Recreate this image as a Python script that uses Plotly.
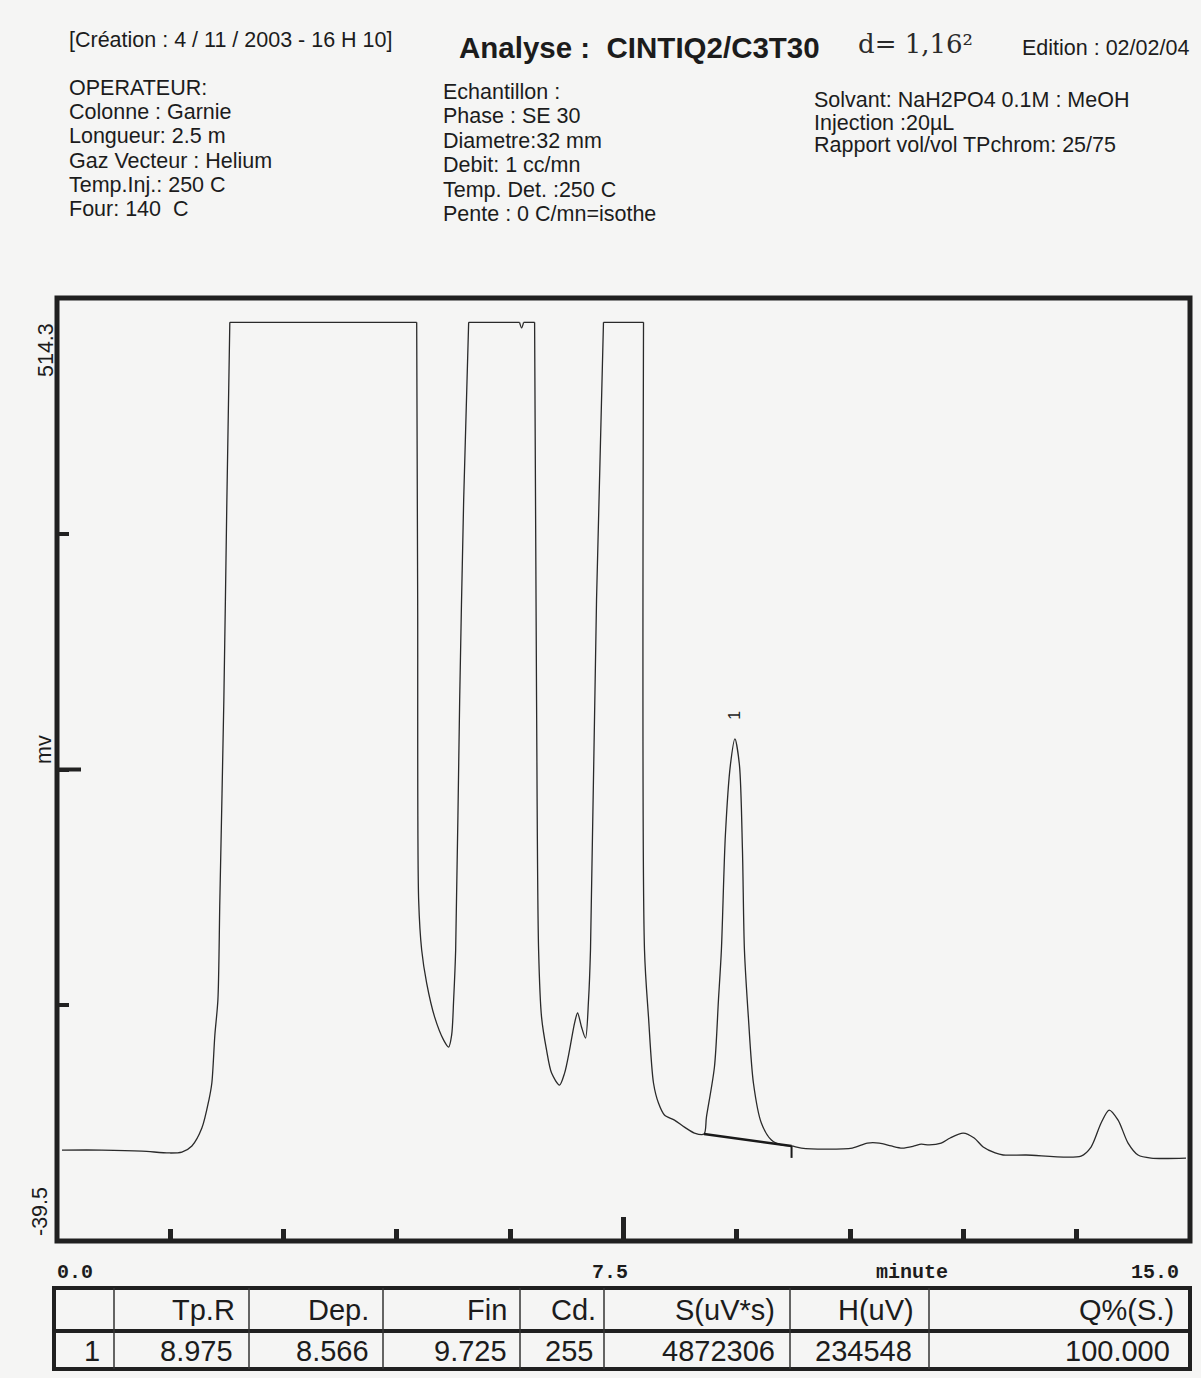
import plotly.graph_objects as go

# ---------------- data ----------------
# Chromatogram signal (time in minutes, signal in mV), before peak 1
pre_time = [0.066, 0.595, 1.124, 1.481, 1.653, 1.786, 1.918, 2.011, 2.050, 2.090,
            2.130, 2.156, 2.209, 2.249, 2.288, 4.762, 4.775, 4.788, 4.828, 4.894,
            5.000, 5.119, 5.185, 5.225, 5.251, 5.278, 5.331, 5.384, 5.450, 6.124,
            6.151, 6.177, 6.323, 6.349, 6.376, 6.415, 6.481, 6.548, 6.653, 6.720,
            6.786, 6.852, 6.892, 6.944, 6.997, 7.037, 7.063, 7.143, 7.235, 7.765,
            7.778, 7.831, 7.897, 7.963, 8.042, 8.175, 8.307, 8.439]
pre_signal = [13.9, 13.9, 13.3, 12.2, 12.7, 16.3, 26.8, 43.3, 53.3, 81.5,
              102.0, 160.7, 278.2, 395.7, 500.0, 500.0, 336.9, 160.7, 131.4, 112.0,
              92.0, 78.5, 74.4, 81.5, 102.0, 131.4, 278.2, 395.7, 500.0, 500.0,
              496.7, 500.0, 500.0, 278.2, 131.4, 92.0, 72.7, 59.1, 52.1, 59.1,
              72.7, 88.5, 94.4, 86.2, 79.7, 102.0, 131.4, 336.9, 500.0, 500.0,
              131.4, 92.0, 53.3, 41.5, 34.5, 31.5, 27.4, 23.9]

# Peak 1 flanks (rising side, falling side)
rise_time = [8.598, 8.704, 8.757, 8.796, 8.849, 8.915]
rise_signal = [33.3, 62.7, 102.0, 131.4, 198.9, 240.0]
fall_time = [9.035, 9.075, 9.101, 9.153, 9.220, 9.325, 9.458, 9.590]
fall_signal = [240.0, 190.0, 131.4, 92.0, 53.3, 29.8, 19.8, 16.9]

# After peak 1
post_time = [9.854, 10.172, 10.529, 10.728, 10.886, 11.045, 11.190, 11.349, 11.442,
             11.548, 11.706, 11.825, 11.997, 12.143, 12.262, 12.421, 12.526, 12.831,
             13.558, 13.690, 13.823, 13.929, 14.048, 14.180, 14.312, 14.484, 14.947]
post_signal = [15.1, 14.5, 15.1, 18.0, 18.0, 16.3, 15.1, 16.3, 17.4,
               16.9, 18.0, 21.0, 23.9, 21.0, 15.7, 12.2, 11.0, 11.0,
               10.4, 15.7, 29.8, 37.4, 31.5, 18.0, 11.0, 9.2, 9.2]

# detector saturation level (flat-topped peaks)
saturation_mv = 500.0

# Integration results
peak_no = "1"
tp_r = 8.975          # retention time (min)
dep = 8.566           # start of integration (min)
fin = 9.725           # end of integration (min)
cd = 255
area_uvs = 4872306
height_uv = 234548
q_pct = "100.000"
baseline_dep_mv = 23.3
baseline_fin_mv = 16.3

x_range = [0.0, 15.0]
y_range = [-39.5, 514.3]
x_tick_step = 1.5
x_tick_labels = ["0.0", "7.5", "15.0"]
x_title = "minute"
y_title = "mv"

table_headers = ["", "Tp.R", "Dep.", "Fin", "Cd.", "S(uV*s)", "H(uV)", "Q%(S.)"]

# ---------------- build peak 1 from its stated height ----------------
base_at_tp = baseline_dep_mv + (baseline_fin_mv - baseline_dep_mv) * (tp_r - dep) / (fin - dep)
apex_mv = base_at_tp + height_uv / 1000.0

time_all = pre_time + [dep] + rise_time + [tp_r] + fall_time + [fin] + post_time
signal_all = pre_signal + [baseline_dep_mv] + rise_signal + [apex_mv] + fall_signal + [baseline_fin_mv] + post_signal

# ---------------- page geometry (pixels) ----------------
WIDTH, HEIGHT = 1201, 1378
L, R, T, B = 57, 1190, 298, 1241
PW, PH = R - L, B - T


def px(x):
    return (x - L) / PW


def py(y):
    return (B - y) / PH


INK = "#1c1c1c"
PAPER = "#f5f5f4"
SANS = "Liberation Sans, Arial, sans-serif"
MONO = "Liberation Mono, Courier New, monospace"

fig = go.Figure()

# Split the signal into flat saturated runs (straight) and curved runs (smoothed)
pts = list(zip(time_all, signal_all))
runs, cur, mode = [], [pts[0]], None
for a, b in zip(pts[:-1], pts[1:]):
    m = "linear" if (a[1] == saturation_mv and b[1] == saturation_mv) else "spline"
    if mode is None:
        mode = m
    if m != mode:
        runs.append((mode, cur))
        cur, mode = [a], m
    cur.append(b)
runs.append((mode, cur))

for shape, seg in runs:
    fig.add_trace(go.Scatter(
        x=[p[0] for p in seg], y=[p[1] for p in seg], mode="lines",
        line=dict(color="#2a2a2a", width=1.3, shape=shape, smoothing=0.8),
        hoverinfo="skip", showlegend=False,
    ))

# integration baseline and end-of-peak marker
fig.add_trace(go.Scatter(
    x=[dep, fin], y=[baseline_dep_mv, baseline_fin_mv], mode="lines",
    line=dict(color="#1a1a1a", width=2.6), hoverinfo="skip", showlegend=False,
))
fig.add_trace(go.Scatter(
    x=[fin, fin], y=[baseline_fin_mv, baseline_fin_mv - 7], mode="lines",
    line=dict(color="#1a1a1a", width=2), hoverinfo="skip", showlegend=False,
))

n_xticks = int(round((x_range[1] - x_range[0]) / x_tick_step))
x_ticks = [x_range[0] + k * x_tick_step for k in range(1, n_xticks)]
y_ticks = [y_range[0] + k * (y_range[1] - y_range[0]) / 4 for k in range(1, 4)]
x_mid = (x_range[0] + x_range[1]) / 2

fig.update_xaxes(range=x_range, tickvals=x_ticks, ticks="inside", ticklen=12,
                 tickwidth=5, tickcolor="#222", showticklabels=False,
                 showgrid=False, zeroline=False, showline=False, fixedrange=True)
fig.update_yaxes(range=y_range, tickvals=y_ticks, ticks="inside", ticklen=12,
                 tickwidth=4, tickcolor="#222", showticklabels=False,
                 showgrid=False, zeroline=False, showline=False, fixedrange=True)

shapes = []
# plot frame
shapes.append(dict(type="rect", xref="paper", yref="paper", x0=0, x1=1, y0=0, y1=1,
                   line=dict(color="#202020", width=5)))
# longer centre ticks
shapes.append(dict(type="line", xref="x", yref="paper", x0=x_mid, x1=x_mid,
                   y0=0, y1=24 / PH, line=dict(color="#222", width=5)))
shapes.append(dict(type="line", xref="paper", yref="y", x0=0, x1=24 / PW,
                   y0=y_ticks[1], y1=y_ticks[1], line=dict(color="#222", width=4)))

# results table
tb_l, tb_r, tb_t, tb_m, tb_b = 54, 1190, 1288, 1331, 1369
shapes.append(dict(type="rect", xref="paper", yref="paper", x0=px(tb_l), x1=px(tb_r),
                   y0=py(tb_b), y1=py(tb_t), line=dict(color="#202020", width=4)))
shapes.append(dict(type="line", xref="paper", yref="paper", x0=px(tb_l), x1=px(tb_r),
                   y0=py(tb_m), y1=py(tb_m), line=dict(color="#202020", width=4)))
for sx in [114, 249, 383, 520, 604, 790, 929]:
    shapes.append(dict(type="line", xref="paper", yref="paper", x0=px(sx), x1=px(sx),
                       y0=py(tb_b), y1=py(tb_t), line=dict(color="#333", width=1.5)))

ann = []


def text(x, y, s, size=21.5, anchor="left", family=SANS, bold=False, angle=0, color=INK):
    ann.append(dict(xref="paper", yref="paper", x=px(x), y=py(y), text=f"<b>{s}</b>" if bold else s,
                    showarrow=False, xanchor=anchor, yanchor="middle", textangle=angle,
                    font=dict(family=family, size=size, color=color)))


# header block
text(67, 40, "[Création : 4 / 11 / 2003 - 16 H 10]")
col1 = ["OPERATEUR:", "Colonne : Garnie", "Longueur: 2.5 m", "Gaz Vecteur : Helium",
        "Temp.Inj.: 250 C", "Four: 140  C"]
for i, s in enumerate(col1):
    text(67, 88 + i * 24.2, s)

text(457, 48, "Analyse :  CINTIQ2/C3T30", size=29.5, bold=True)
text(856, 44, "d= 1,16²", size=26, family="DejaVu Serif", color="#2a2a2a")
text(1020, 48, "Edition : 02/02/04")

col2 = ["Echantillon :", "Phase : SE 30", "Diametre:32 mm", "Debit: 1 cc/mn",
        "Temp. Det. :250 C", "Pente : 0 C/mn=isothe"]
for i, s in enumerate(col2):
    text(441, 92 + i * 24.4, s)

col3 = ["Solvant: NaH2PO4 0.1M : MeOH", "Injection :20µL", "Rapport vol/vol TPchrom: 25/75"]
for i, s in enumerate(col3):
    text(812, 100 + i * 22.5, s)

# axis labels
text(46, 350, f"{y_range[1]:.1f}", anchor="center", angle=-90)
text(40, 1212, f"{y_range[0]:.1f}", anchor="center", angle=-90)
text(44, 750, y_title, anchor="center", angle=-90)
text(55, 1272, x_tick_labels[0], size=20, family=MONO, bold=True)
text(610, 1272, x_tick_labels[1], size=20, family=MONO, bold=True, anchor="center")
text(912, 1272, x_title, size=20, family=MONO, bold=True, anchor="center")
text(1181, 1272, x_tick_labels[2], size=20, family=MONO, bold=True, anchor="right")

# peak number above the apex
ann.append(dict(xref="x", yref="y", x=tp_r, y=apex_mv, yshift=24, text=peak_no,
                showarrow=False, textangle=-90,
                font=dict(family=SANS, size=16, color=INK)))

# table contents
hdr_right = [None, 237, 371, 509, 598, 777, 916, 1176]
for h, xr in zip(table_headers, hdr_right):
    if h:
        text(xr, 1310, h, size=29, anchor="right")
row = [peak_no, f"{tp_r:.3f}", f"{dep:.3f}", f"{fin:.3f}", str(cd),
       str(area_uvs), str(height_uv), q_pct]
data_right = [None, 235, 371, 509, 595, 777, 914, 1172]
text(92, 1351, row[0], size=29, anchor="center")
for s, xr in zip(row[1:], data_right[1:]):
    text(xr, 1351, s, size=29, anchor="right")

fig.update_layout(
    width=WIDTH, height=HEIGHT,
    margin=dict(l=L, r=WIDTH - R, t=T, b=HEIGHT - B, pad=0),
    paper_bgcolor=PAPER, plot_bgcolor=PAPER,
    shapes=shapes, annotations=ann, showlegend=False,
)

fig.write_html("out.html", config={"displayModeBar": False})
